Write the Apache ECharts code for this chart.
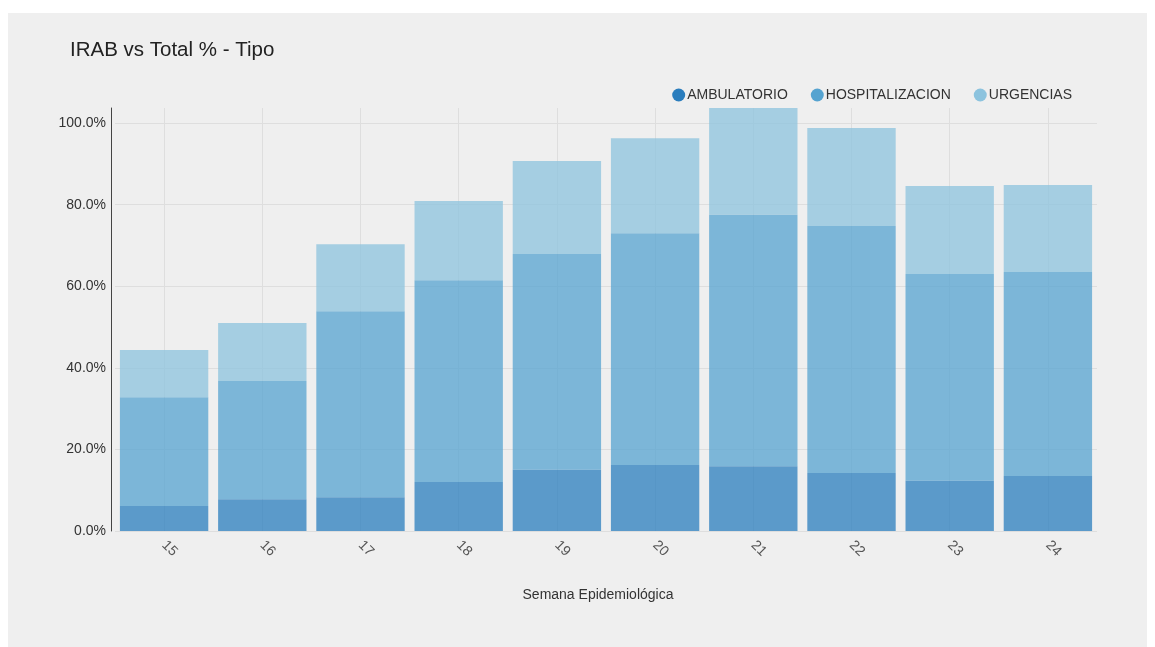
<!DOCTYPE html>
<html>
<head>
<meta charset="utf-8">
<title>IRAB vs Total % - Tipo</title>
<script src="https://cdn.jsdelivr.net/npm/echarts@6/dist/echarts.min.js"></script>
<style>
  html, body { margin: 0; padding: 0; background: #ffffff; }
  #chart { width: 1155px; height: 647px; }
</style>
</head>
<body>
<div id="chart"></div>
<script>
// Epidemiological weeks
const weeks = ['15', '16', '17', '18', '19', '20', '21', '22', '23', '24'];

// Share (%) per care type, stacked per week
const ambulatorio     = [6.1, 7.8, 8.3, 12.0, 15.0, 16.2, 15.9, 14.2, 12.3, 13.5];
const hospitalizacion = [26.7, 29.0, 45.6, 49.5, 52.9, 56.8, 61.6, 60.6, 50.7, 50.0];
const urgencias       = [11.6, 14.2, 16.4, 19.4, 22.8, 23.3, 26.2, 24.0, 21.6, 21.3];

const seriesNames = ['AMBULATORIO', 'HOSPITALIZACION', 'URGENCIAS'];
const seriesColors = ['#2a7dbd', '#55a3d0', '#8cc3de'];

const chart = echarts.init(document.getElementById('chart'), null, { renderer: 'canvas' });

const FONT = '"Liberation Sans", Arial, Helvetica, sans-serif';

function barSeries(name, data, color) {
  return {
    name: name,
    type: 'bar',
    stack: 'total',
    data: data,
    barCategoryGap: '10%',
    itemStyle: { color: color, opacity: 0.75 },
    emphasis: { disabled: true }
  };
}

const option = {
  backgroundColor: '#ffffff',
  animation: false,
  textStyle: { fontFamily: FONT },
  graphic: [{
    type: 'rect',
    z: -10,
    silent: true,
    shape: { x: 8, y: 13, width: 1139, height: 634 },
    style: { fill: '#efefef' }
  }],
  title: {
    text: 'IRAB vs Total % - Tipo',
    left: 65,
    top: 35,
    textStyle: { fontFamily: FONT, fontSize: 20.5, fontWeight: 'normal', color: '#222222' }
  },
  legend: {
    data: seriesNames,
    right: 78,
    top: 83,
    icon: 'circle',
    itemWidth: 13,
    itemHeight: 13,
    itemGap: 23,
    itemStyle: { opacity: 1 },
    textStyle: { fontFamily: FONT, fontSize: 14, color: '#333333', padding: [0, 0, 0, -3] }
  },
  color: seriesColors,
  grid: { left: 115, right: 58, top: 108, bottom: 116, containLabel: false },
  xAxis: {
    type: 'category',
    data: weeks,
    name: 'Semana Epidemiológica',
    nameLocation: 'middle',
    nameGap: 57,
    nameTextStyle: { fontFamily: FONT, fontSize: 14, color: '#333333', padding: [0, 16, 0, 0] },
    axisLine: { show: false },
    axisTick: { show: false },
    axisLabel: { rotate: -45, margin: 12, fontSize: 14, color: '#555555', fontFamily: FONT },
    splitLine: { show: false }
  },
  yAxis: {
    type: 'value',
    min: 0,
    max: function (v) { return v.max; },
    interval: 20,
    offset: 4,
    axisLine: { show: true, lineStyle: { color: '#444444', width: 1 } },
    axisTick: { show: false },
    axisLabel: {
      fontSize: 14,
      color: '#333333',
      fontFamily: FONT,
      margin: 5,
      showMaxLabel: false,
      formatter: function (v) { return v.toFixed(1) + '%'; }
    },
    splitLine: { show: true, showMaxLine: false, lineStyle: { color: '#dedede', width: 1 } }
  },
  series: [
    barSeries(seriesNames[0], ambulatorio, seriesColors[0]),
    barSeries(seriesNames[1], hospitalizacion, seriesColors[1]),
    barSeries(seriesNames[2], urgencias, seriesColors[2]),
    {
      // vertical guide lines through each week's center
      name: 'guides',
      type: 'line',
      data: [],
      silent: true,
      markLine: {
        z: 1,
        silent: true,
        symbol: ['none', 'none'],
        label: { show: false },
        lineStyle: { color: '#dedede', type: 'solid', width: 1 },
        data: weeks.map(function (w) { return { xAxis: w }; })
      }
    }
  ]
};

chart.setOption(option);
</script>
</body>
</html>
